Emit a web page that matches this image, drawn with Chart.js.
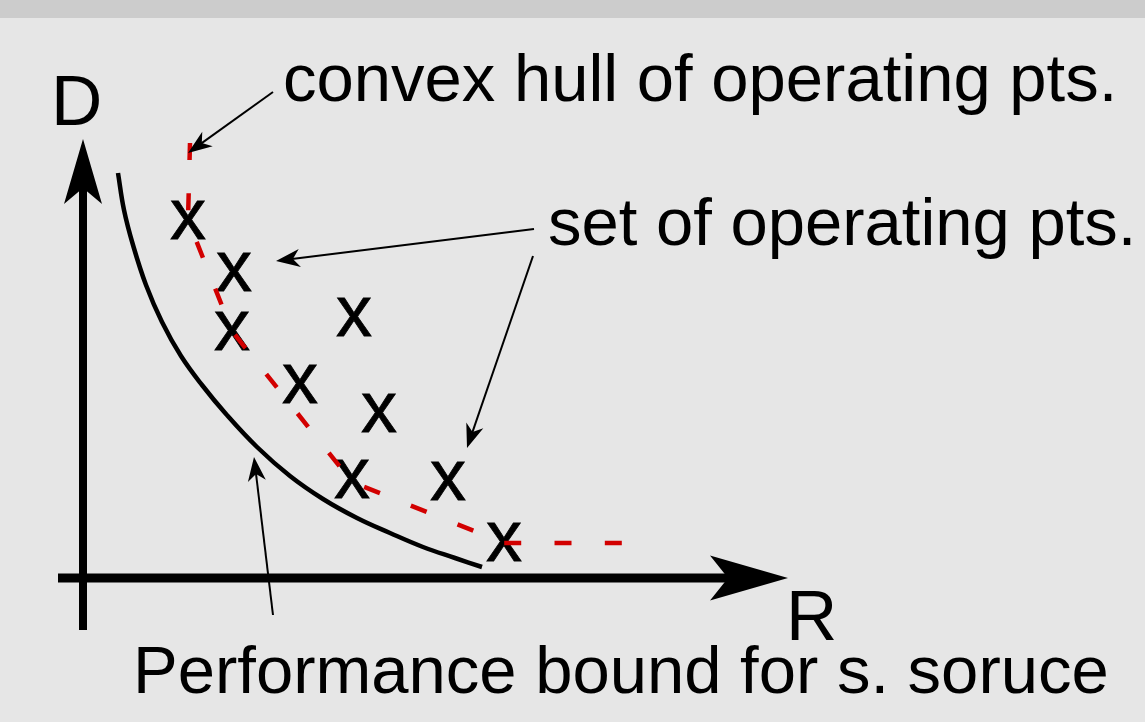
<!DOCTYPE html>
<html><head><meta charset="utf-8">
<script src="https://cdn.jsdelivr.net/npm/chart.js@4.4.1/dist/chart.umd.min.js"></script>
<style>
html,body{margin:0;padding:0;background:#e6e6e6;overflow:hidden}
#band{position:absolute;left:0;top:0;width:1145px;height:18px;background:#cccccc}
#wrap{position:absolute;left:0;top:0;width:1145px;height:722px}
</style></head><body>
<div id="band"></div>
<div id="wrap"><canvas id="c" width="1145" height="722"></canvas></div>
<script>
// ---- data (R = rate, D = distortion) ----
const opR = [1.05, 1.51, 1.49, 2.71, 2.17, 2.96, 2.69, 3.65, 4.21];
const opD = [3.58, 3.06, 2.47, 2.61, 1.94, 1.65, 0.99, 0.97, 0.36];

const hullR = [1.07, 1.05, 1.49, 2.69, 4.21, 5.40];
const hullD = [4.35, 3.58, 2.47, 0.96, 0.35, 0.35];

const boundR = [0.35, 0.41, 0.50, 0.63, 0.79, 0.98, 1.19, 1.43, 1.74, 2.07, 2.40, 2.74, 3.07, 3.40, 3.72, 3.99];
const boundD = [4.05, 3.68, 3.33, 2.93, 2.56, 2.22, 1.93, 1.64, 1.31, 1.02, 0.79, 0.60, 0.45, 0.31, 0.20, 0.11];

// axes extents
const rAxisFrom = -0.25, rAxisTo = 7.05;
const dAxisFrom = -0.52, dAxisTo = 4.39;

// view range
const rMin = -0.83, rMax = 10.62, dMin = -1.44, dMax = 5.78;

// annotation texts and their anchor (left, baseline)
const labelTexts = ["D", "R", "convex hull of operating pts.", "set of operating pts.", "Performance bound for s. soruce"];
const labelR = [-0.32, 7.03, 2.00, 4.65, 0.50];
const labelD = [4.53, -0.62, 4.77, 3.33, -1.15];
const labelSize = [71, 71, 67, 67, 67];

// annotation arrows: from (R,D) to tip (R,D)
const arrowFromR = [1.90, 4.51, 4.50, 1.90];
const arrowFromD = [4.86, 3.49, 3.22, -0.37];
const arrowToR   = [1.05, 1.93, 3.84, 1.71];
const arrowToD   = [4.25, 3.17, 1.30, 1.21];

const FONT = '"Liberation Sans", Arial, Helvetica, sans-serif';

// glyph "x" as point style
function makeX(size){
  const c = document.createElement('canvas');
  c.width = 52; c.height = 52;
  const g = c.getContext('2d');
  g.font = size + 'px ' + FONT;
  g.fillStyle = '#000'; g.strokeStyle = '#000'; g.lineWidth = 0.8;
  const m = g.measureText('x');
  const l = m.actualBoundingBoxLeft, r = m.actualBoundingBoxRight;
  const a = m.actualBoundingBoxAscent, d = m.actualBoundingBoxDescent;
  const tx = c.width/2 - (r - l)/2, ty = c.height/2 - (d - a)/2;
  g.fillText('x', tx, ty);
  g.strokeText('x', tx, ty);
  return c;
}
const xGlyph = makeX(72);

function drawArrow(ctx, x0, y0, x1, y1, lw, len, hw, notch){
  const dx = x1 - x0, dy = y1 - y0, L = Math.hypot(dx, dy);
  const ux = dx / L, uy = dy / L, px = -uy, py = ux;
  ctx.lineWidth = lw; ctx.lineCap = 'butt';
  ctx.beginPath(); ctx.moveTo(x0, y0); ctx.lineTo(x1 - ux*(notch-1), y1 - uy*(notch-1)); ctx.stroke();
  ctx.beginPath();
  ctx.moveTo(x1, y1);
  ctx.lineTo(x1 - ux*len + px*hw, y1 - uy*len + py*hw);
  ctx.lineTo(x1 - ux*notch, y1 - uy*notch);
  ctx.lineTo(x1 - ux*len - px*hw, y1 - uy*len - py*hw);
  ctx.closePath(); ctx.fill();
}

const annoPlugin = {
  id: 'anno',
  beforeDatasetsDraw(chart){
    const {ctx, scales: {x, y}} = chart;
    ctx.save();
    ctx.fillStyle = '#000'; ctx.strokeStyle = '#000';
    drawArrow(ctx, x.getPixelForValue(rAxisFrom), y.getPixelForValue(0),
                   x.getPixelForValue(rAxisTo), y.getPixelForValue(0), 9, 78, 22.5, 60);
    drawArrow(ctx, x.getPixelForValue(0), y.getPixelForValue(dAxisFrom),
                   x.getPixelForValue(0), y.getPixelForValue(dAxisTo), 8, 65, 19, 49);
    ctx.restore();
  },
  afterDatasetsDraw(chart){
    const {ctx, scales: {x, y}} = chart;
    ctx.save();
    ctx.fillStyle = '#000'; ctx.strokeStyle = '#000';
    for (let i = 0; i < arrowFromR.length; i++){
      drawArrow(ctx, x.getPixelForValue(arrowFromR[i]), y.getPixelForValue(arrowFromD[i]),
                     x.getPixelForValue(arrowToR[i]), y.getPixelForValue(arrowToD[i]), 2, 24, 9, 17);
    }
    ctx.textBaseline = 'alphabetic'; ctx.textAlign = 'left';
    for (let i = 0; i < labelTexts.length; i++){
      ctx.font = labelSize[i] + 'px ' + FONT;
      ctx.fillText(labelTexts[i], x.getPixelForValue(labelR[i]), y.getPixelForValue(labelD[i]));
    }
    ctx.restore();
  }
};

new Chart(document.getElementById('c'), {
  type: 'scatter',
  data: {
    datasets: [
      {
        label: 'convex hull',
        data: hullR.map((r, i) => ({x: r, y: hullD[i]})),
        showLine: true, borderColor: '#d20000', borderWidth: 4.5,
        borderDash: [17, 33.3], pointRadius: 0, tension: 0, order: 0
      },
      {
        label: 'operating points',
        data: opR.map((r, i) => ({x: r, y: opD[i]})),
        pointStyle: xGlyph, pointRadius: 20, order: 1
      },
      {
        label: 'performance bound',
        data: boundR.map((r, i) => ({x: r, y: boundD[i]})),
        showLine: true, borderColor: '#000', borderWidth: 4.5,
        pointRadius: 0, tension: 0.4, order: 2
      }
    ]
  },
  options: {
    responsive: false, animation: false, devicePixelRatio: 1,
    layout: {padding: 0, autoPadding: false},
    plugins: {legend: {display: false}, tooltip: {enabled: false}},
    events: [],
    scales: {
      x: {type: 'linear', min: rMin, max: rMax, display: false},
      y: {type: 'linear', min: dMin, max: dMax, display: false}
    }
  },
  plugins: [annoPlugin]
});
</script>
</body></html>
